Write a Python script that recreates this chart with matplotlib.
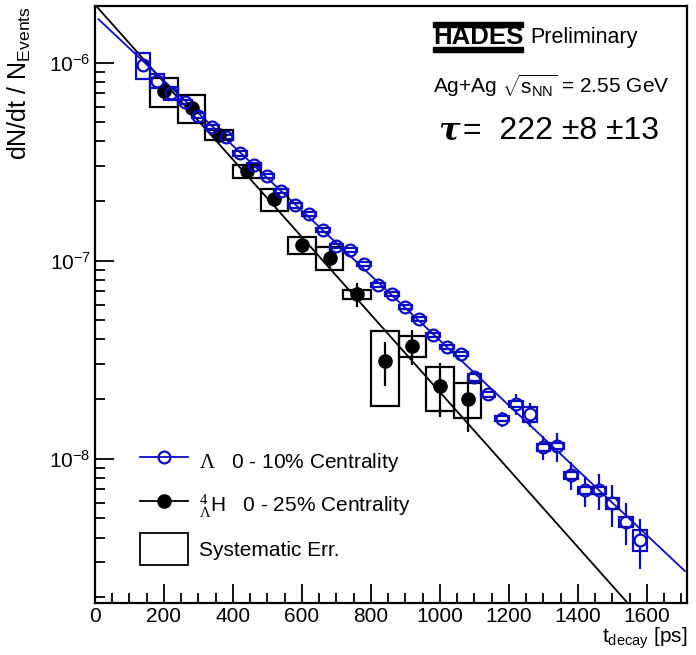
import numpy as np
import matplotlib
matplotlib.use("Agg")
import matplotlib.pyplot as plt
from matplotlib.patches import Rectangle
from matplotlib.lines import Line2D
from matplotlib.ticker import LogLocator, MultipleLocator, NullFormatter

plt.rcParams['font.family'] = ['Liberation Sans', 'DejaVu Sans']
plt.rcParams['mathtext.fontset'] = 'custom'
plt.rcParams['mathtext.rm'] = 'Liberation Serif'
plt.rcParams['mathtext.sf'] = 'Liberation Sans'
plt.rcParams['mathtext.it'] = 'Liberation Sans:italic'

# ---- Lambda, 0-10% centrality (40 ps bins) ----
t_lam = np.array([140, 180, 220, 260, 300, 340, 380, 420, 460, 500, 540, 580,
                  620, 660, 700, 740, 780, 820, 860, 900, 940, 980, 1020, 1060,
                  1100, 1140, 1180, 1220, 1260, 1300, 1340, 1380, 1420, 1460,
                  1500, 1540, 1580])
y_lam = np.array([9.74e-7, 8.11e-7, 7.0e-7, 6.31e-7, 5.4e-7, 4.72e-7, 4.22e-7,
                  3.48e-7, 3.04e-7, 2.68e-7, 2.25e-7, 1.90e-7, 1.72e-7, 1.43e-7,
                  1.19e-7, 1.13e-7, 9.6e-8, 7.53e-8, 6.79e-8, 5.82e-8, 5.06e-8,
                  4.22e-8, 3.68e-8, 3.38e-8, 2.58e-8, 2.12e-8, 1.59e-8, 1.89e-8,
                  1.68e-8, 1.14e-8, 1.16e-8, 8.28e-9, 6.95e-9, 6.95e-9, 5.95e-9,
                  4.81e-9, 3.88e-9])
stat_lam = np.array([0.02, 0.02, 0.02, 0.02, 0.02, 0.02, 0.02, 0.02, 0.02, 0.02,
                     0.025, 0.025, 0.025, 0.03, 0.03, 0.03, 0.03, 0.035, 0.035,
                     0.04, 0.04, 0.045, 0.045, 0.05, 0.05, 0.07, 0.085, 0.12,
                     0.135, 0.14, 0.167, 0.16, 0.18, 0.21, 0.24, 0.24, 0.285])
syst_lam = np.array([0.15, 0.08, 0.08, 0.025, 0.025, 0.025, 0.025, 0.025, 0.025,
                     0.025, 0.025, 0.025, 0.025, 0.025, 0.025, 0.025, 0.025,
                     0.025, 0.025, 0.025, 0.025, 0.025, 0.025, 0.025, 0.044,
                     0.03, 0.03, 0.03, 0.085, 0.04, 0.04, 0.04, 0.04, 0.04,
                     0.06, 0.06, 0.12])

# ---- 4LH, 0-25% centrality (80 ps bins) ----
t_h4l = np.array([200, 280, 360, 440, 520, 600, 680, 760, 840, 920, 1000, 1080])
y_h4l = np.array([7.2e-7, 5.89e-7, 4.32e-7, 2.82e-7, 2.04e-7, 1.20e-7, 1.035e-7,
                  6.76e-8, 3.12e-8, 3.72e-8, 2.33e-8, 2.0e-8])
stat_h4l = np.array([0.05, 0.05, 0.05, 0.06, 0.08, 0.09, 0.135, 0.135, 0.25,
                     0.20, 0.30, 0.32])
syst_h4l = np.array([0.167, 0.16, 0.06, 0.075, 0.13, 0.10, 0.13, 0.053, 0.41,
                     0.125, 0.25, 0.20])

# exponential fit results
tau_h4l, amp_h4l = 222.0, 1.96e-6
tau_lam, amp_lam = 265.0, 1.72e-6

BLUE = '#0b0bc4'
W, H = 696, 655

fig = plt.figure(figsize=(W / 100, H / 100), dpi=100)
ax = fig.add_axes([95 / W, 1 - 603 / H, (687 - 95) / W, (603 - 6) / H])
ax.set_yscale('log')
ax.set_xlim(0, 1716)
ax.set_ylim(1.87e-9, 1.93e-6)


def px(x, y):
    return x / W, 1 - y / H


# fit curves
tf = np.linspace(0, 1716, 500)
ax.plot(tf, amp_h4l * np.exp(-tf / tau_h4l), color='black', lw=1.3, zorder=2)
tl = np.linspace(10, 1710, 500)
ax.plot(tl, amp_lam * np.exp(-tl / tau_lam), color=BLUE, lw=1.3, zorder=2)


def stat_bars(t, v, rel, color, gap_px, lw):
    """Vertical statistical error bars, leaving a gap around the marker."""
    disp = ax.transData.transform(np.column_stack([t, v]))
    inv = ax.transData.inverted()
    hi_gap = inv.transform(disp + [0, gap_px])[:, 1]
    lo_gap = inv.transform(disp - [0, gap_px])[:, 1]
    hi = np.maximum(v * (1 + rel), hi_gap)
    lo = np.minimum(v * (1 - rel), lo_gap)
    ax.vlines(t, hi_gap, hi, color=color, lw=lw, zorder=3, capstyle='butt')
    ax.vlines(t, lo, lo_gap, color=color, lw=lw, zorder=3, capstyle='butt')


def syst_boxes(t, v, rel, width, color, lw):
    for ti, vi, ri in zip(t, v, rel):
        ax.add_patch(Rectangle((ti - width / 2, vi * (1 - ri)), width, 2 * ri * vi,
                               fill=False, edgecolor=color, lw=lw, zorder=3))


syst_boxes(t_h4l, y_h4l, syst_h4l, 80, 'black', 1.6)
stat_bars(t_h4l, y_h4l, stat_h4l, 'black', 0, 1.6)
ax.plot(t_h4l, y_h4l, 'o', color='black', ms=9.5, zorder=5)

syst_boxes(t_lam, y_lam, syst_lam, 40, BLUE, 1.6)
stat_bars(t_lam, y_lam, stat_lam, BLUE, 6, 1.6)
ax.plot(t_lam, y_lam, 'o', mfc='none', mec=BLUE, mew=1.6, ms=8.5, zorder=6)

# axes styling
for s in ax.spines.values():
    s.set_linewidth(1.6)
ax.xaxis.set_major_locator(MultipleLocator(200))
ax.xaxis.set_minor_locator(MultipleLocator(50))
ax.yaxis.set_major_locator(LogLocator(base=10, numticks=10))
ax.yaxis.set_minor_locator(LogLocator(base=10, subs=np.arange(2, 10), numticks=10))
ax.yaxis.set_minor_formatter(NullFormatter())
ax.tick_params(which='both', direction='in', top=False, right=False,
               labelsize=15, width=1.3)
ax.tick_params(which='major', length=13.5, pad=3)
ax.tick_params(which='minor', length=7)

ax.set_xlabel(r"t$_{\mathsf{decay}}$ [ps]", fontsize=15, loc='right')
ax.xaxis.set_label_coords(1.0, -0.038)
ax.set_ylabel(r"dN/dt / N$_{\mathsf{Events}}$", fontsize=18, loc='top')
ax.yaxis.set_label_coords(-0.104, 1.0)

# legend
handles = [
    Line2D([], [], color=BLUE, lw=1.3, marker='o', mfc='none', mec=BLUE, mew=1.6, ms=8.5),
    Line2D([], [], color='black', lw=1.3, marker='o', ms=9.5),
    Rectangle((0, 0), 1, 1, fill=False, edgecolor='black', lw=1.3),
]
labels = [r"$\Lambda$   0 - 10% Centrality",
          r"${}^{4}_{\Lambda}$H   0 - 25% Centrality",
          "Systematic Err."]
ax.legend(handles, labels, loc='upper left', bbox_to_anchor=(0.076, 0.2637),
          frameon=False, fontsize=15, handlelength=2.3, handleheight=2.0,
          handletextpad=0.55, labelspacing=0.56, borderpad=0, borderaxespad=0)

# experiment tag
for y0, y1 in [(21.7, 26.7), (46.7, 51.7)]:
    x0, yb = px(433, y1)
    fig.patches.append(Rectangle((x0, yb), 90 / W, (y1 - y0) / H, color='black',
                                 transform=fig.transFigure, figure=fig))
fig.text(*px(478, 37), "HADES", ha='center', va='center', fontsize=18.5,
         fontweight='heavy', color='black')
fig.text(*px(530.5, 43.3), "Preliminary", ha='left', va='baseline', fontsize=15.5)
fig.text(*px(433, 93.3), r"Ag+Ag $\sqrt{\mathsf{s}_{\mathsf{NN}}}$ = 2.55 GeV",
         ha='left', va='baseline', fontsize=15)
fig.text(*px(438, 139.3), "τ", ha='left', va='baseline', fontsize=23,
         family='DejaVu Serif', fontweight='bold', fontstyle='italic')
fig.text(*px(463, 139.3), "=  222 ±8 ±13", ha='left', va='baseline', fontsize=23)

fig.savefig("out.png", dpi=100)
